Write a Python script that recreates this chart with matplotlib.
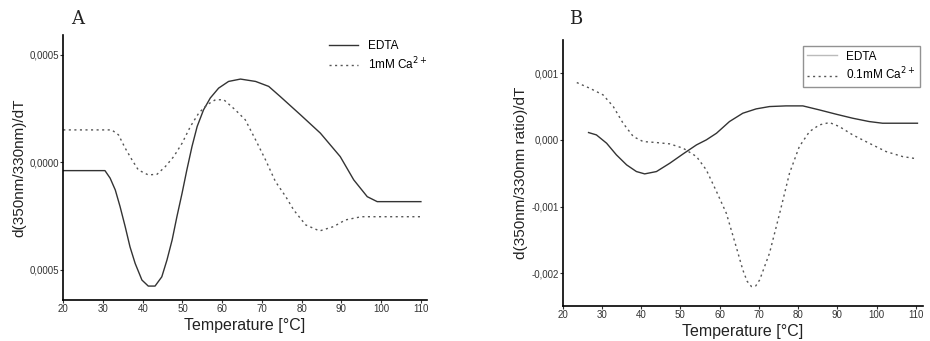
import numpy as np
import matplotlib.pyplot as plt

# Panel A: EDTA (solid) and 1mM Ca2+ (dotted)
a_edta_t = [20, 30.5, 31.8, 33.1, 34.3, 35.6, 36.8, 38.1, 39.8, 41.4, 43.1,
            44.8, 46.1, 47.4, 48.6, 49.9, 51.1, 52.4, 53.7, 55.3, 57.0, 59.1,
            61.6, 64.6, 68.4, 71.7, 74.6, 79.7, 84.7, 89.7, 93.1, 96.5, 99.0, 110]
a_edta_v = [-0.000039, -0.000039, -0.000074, -0.000129, -0.000206, -0.000300,
            -0.000393, -0.000470, -0.000547, -0.000575, -0.000575, -0.000532,
            -0.000454, -0.000361, -0.000253, -0.000144, -0.000036, 0.000073,
            0.000166, 0.000243, 0.000298, 0.000344, 0.000375, 0.000386,
            0.000375, 0.000352, 0.000305, 0.000220, 0.000135, 0.000026,
            -0.000082, -0.000160, -0.000183, -0.000183]
a_ca_t = [20, 32.2, 33.9, 35.6, 37.3, 38.9, 41.4, 43.6, 45.7, 47.8, 49.9, 52.0,
          54.1, 56.2, 58.3, 60.4, 63.3, 65.8, 68.4, 70.9, 73.4, 76, 78, 81,
          84.5, 88, 91, 95, 110]
a_ca_v = [0.000150, 0.000150, 0.000127, 0.000065, 0.000011, -0.000036,
          -0.000059, -0.000056, -0.000020, 0.000026, 0.000088, 0.000166,
          0.000228, 0.000267, 0.000290, 0.000290, 0.000243, 0.000197,
          0.000104, 0.000011, -0.000090, -0.000160, -0.000222, -0.000291,
          -0.000319, -0.000299, -0.000268, -0.000253, -0.000253]

# Panel B: EDTA (solid) and 0.1mM Ca2+ (dotted)
b_edta_t = [26.6, 28.6, 31.2, 33.7, 36.3, 38.8, 40.9, 43.9, 47.3, 50.7, 54.1,
            56.6, 59.2, 62.5, 65.9, 69.3, 72.7, 76.9, 81.2, 85.4, 89.7, 93.9,
            98.1, 101.5, 110.4]
b_edta_v = [0.00011, 0.000075, -0.00005, -0.000225, -0.000375, -0.000475,
            -0.00051, -0.000475, -0.00035, -0.00021, -0.000075, 0.0, 0.0001,
            0.000275, 0.0004, 0.000465, 0.0005, 0.00051, 0.00051, 0.00045,
            0.000385, 0.000325, 0.000275, 0.00025, 0.00025]
b_ca_t = [23.6, 26.9, 30.3, 32.9, 35.4, 38, 40.5, 43.9, 47.3, 50.7, 54.1, 56.6,
          59.2, 61.7, 64.2, 65.9, 67.0, 68.1, 69.2, 70.2, 72.7, 75.3, 77.8,
          80.3, 82.9, 85.4, 88, 90.5, 93.9, 98.1, 102.4, 106.6, 110.4]
b_ca_v = [0.00086, 0.000775, 0.000675, 0.0005, 0.00025, 0.00005, -0.000025,
          -0.00004, -0.00006, -0.000125, -0.00025, -0.00045, -0.000775,
          -0.0011, -0.0016, -0.00195, -0.00212, -0.0022, -0.00219, -0.0021,
          -0.0017, -0.0011, -0.0005, -0.0001, 0.000125, 0.000225, 0.00026,
          0.0002, 0.000075, -0.00005, -0.000175, -0.00025, -0.000285]

x_ticks = [20, 30, 40, 50, 60, 70, 80, 90, 100, 110]
a_yticks = [0.0005, 0.0, -0.0005]
a_ylabels = ["0,0005", "0,0000", "0,0005"]
b_yticks = [0.001, 0.0, -0.001, -0.002]
b_ylabels = ["0,001", "0,000", "-0,001", "-0,002"]

plt.rcParams['font.family'] = ['Liberation Sans', 'DejaVu Sans']

fig = plt.figure(figsize=(9.3, 3.41), dpi=100)
ax_a = fig.add_axes([0.068, 0.120, 0.391, 0.777])
ax_b = fig.add_axes([0.605, 0.103, 0.387, 0.780])

dot = (0, (1.5, 2.5))


def style_axes(ax, ylabel):
    ax.spines['top'].set_visible(False)
    ax.spines['right'].set_visible(False)
    for s in ('left', 'bottom'):
        ax.spines[s].set_linewidth(1.2)
    ax.set_xticks(x_ticks)
    ax.tick_params(labelsize=7, length=2, width=0.8, pad=1, colors='#333333')
    ax.set_xlabel("Temperature [°C]", fontsize=11.5, color='#222222', labelpad=3)
    ax.set_ylabel(ylabel, fontsize=11, color='#222222', labelpad=2)


ax_a.plot(a_edta_t, a_edta_v, color='#333333', lw=1.0, label="EDTA")
ax_a.plot(a_ca_t, a_ca_v, color='#555555', lw=1.0, ls=dot, label="1mM Ca$^{2+}$")
ax_a.set_xlim(20, 111.5)
ax_a.set_ylim(-0.00064, 0.00059)
ax_a.set_yticks(a_yticks)
ax_a.set_yticklabels(a_ylabels)
style_axes(ax_a, "d(350nm/330nm)/dT")
leg = ax_a.legend(loc='upper right', bbox_to_anchor=(1.03, 1.02), fontsize=8.5,
                  frameon=False, handlelength=2.5, labelspacing=0.3)

ax_b.plot(b_edta_t, b_edta_v, color='#333333', lw=1.0, label="EDTA")
ax_b.plot(b_ca_t, b_ca_v, color='#555555', lw=1.0, ls=dot, label="0.1mM Ca$^{2+}$")
ax_b.set_xlim(20, 111.7)
ax_b.set_ylim(-0.00249, 0.0015)
ax_b.set_yticks(b_yticks)
ax_b.set_yticklabels(b_ylabels)
style_axes(ax_b, "d(350nm/330nm ratio)/dT")
leg_b = ax_b.legend(loc='upper right', bbox_to_anchor=(1.01, 1.0), fontsize=8.5,
                    frameon=True, fancybox=False, edgecolor='#777777',
                    handlelength=2.5, labelspacing=0.3)
leg_b.get_lines()[0].set_color('#bbbbbb')

fig.text(0.076, 0.93, "A", fontsize=13, family='DejaVu Serif', color='#222222')
fig.text(0.612, 0.93, "B", fontsize=13, family='DejaVu Serif', color='#222222')

fig.savefig("out.png", dpi=100)
